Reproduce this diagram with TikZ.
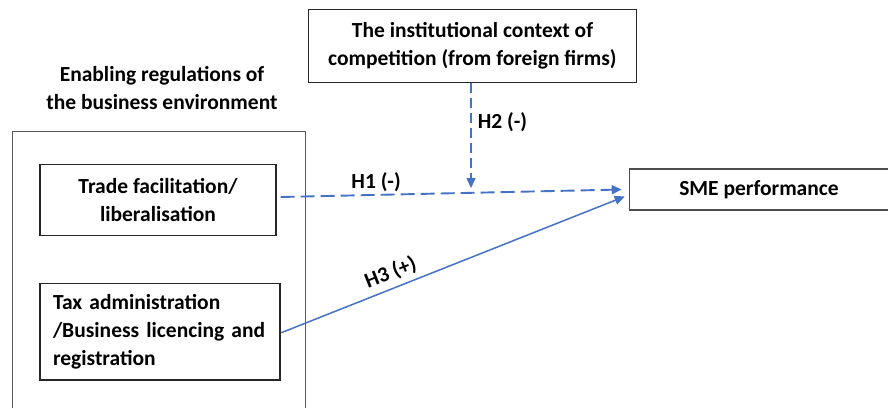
\documentclass[tikz,border=0pt]{standalone}
\usepackage{fontspec}
\setmainfont{Carlito}
\usepackage{xcolor}
\usepackage{tikz}
\usetikzlibrary{arrows.meta,calc,positioning}
\definecolor{linkblue}{HTML}{4472C4}

\begin{document}
\begin{tikzpicture}[x=1pt,y=-1pt,
  every node/.style={font=\fontsize{21.5}{28}\selectfont\bfseries},
  box/.style={draw=black!85,line width=1.2pt,inner sep=0pt,align=center},
  link/.style={draw=linkblue,line width=1.5pt,-{Triangle[length=10pt,width=9pt]}},
  dashlink/.style={link,dash pattern=on 14pt off 6pt}]
\useasboundingbox (0,0) rectangle (888,408);
% outer frame of the regulations (open at the bottom)
\coordinate (fl) at (12.7,408); \coordinate (fr) at (305.3,408);
\draw [black!65,line width=1.2pt] (fl) |- (305.3,131.7) -- (fr);
\node (enab) at (162,88) [align=center] {Enabling regulations of\\the business environment};
\node [box,minimum width=328.5pt,minimum height=73.5pt] (ctx) at (472.5,46) {The institutional context of\\competition (from foreign firms)};
\node [box,minimum width=236pt,minimum height=71pt] (trade) at (158,200) {Trade facilitation/\\liberalisation};
\node [box,align=left,text width=214pt,inner xsep=13pt,minimum height=96.7pt] (tax) at (160,331.7) {Tax administration\\/Business licencing and\\registration};
\node [box,draw=black!70,minimum width=259.4pt,minimum height=41pt] (sme) at (759,189.5) {SME performance};
%\node [circle, fill, inner sep=1pt] at (join) {};
\coordinate (join) at (471,188);
\draw [dashlink,line width=1.9pt] ([xshift=4pt,yshift=3pt]trade.east) -- node [pos=0.28,above,inner sep=2pt] {H1 (-)} ([xshift=-7pt]sme.west);
\draw [link,dash pattern=on 10pt off 5pt] (ctx.south -| join) -- node [pos=0.37,right,inner sep=6pt] {H2 (-)} (join);
\draw [link] ([xshift=0.7pt,yshift=-1pt]tax.east) -- node [pos=0.335,sloped,above,inner sep=5pt] {H3 (+)} ([xshift=-4pt,yshift=-7pt]sme.west);
\end{tikzpicture}
\end{document}
